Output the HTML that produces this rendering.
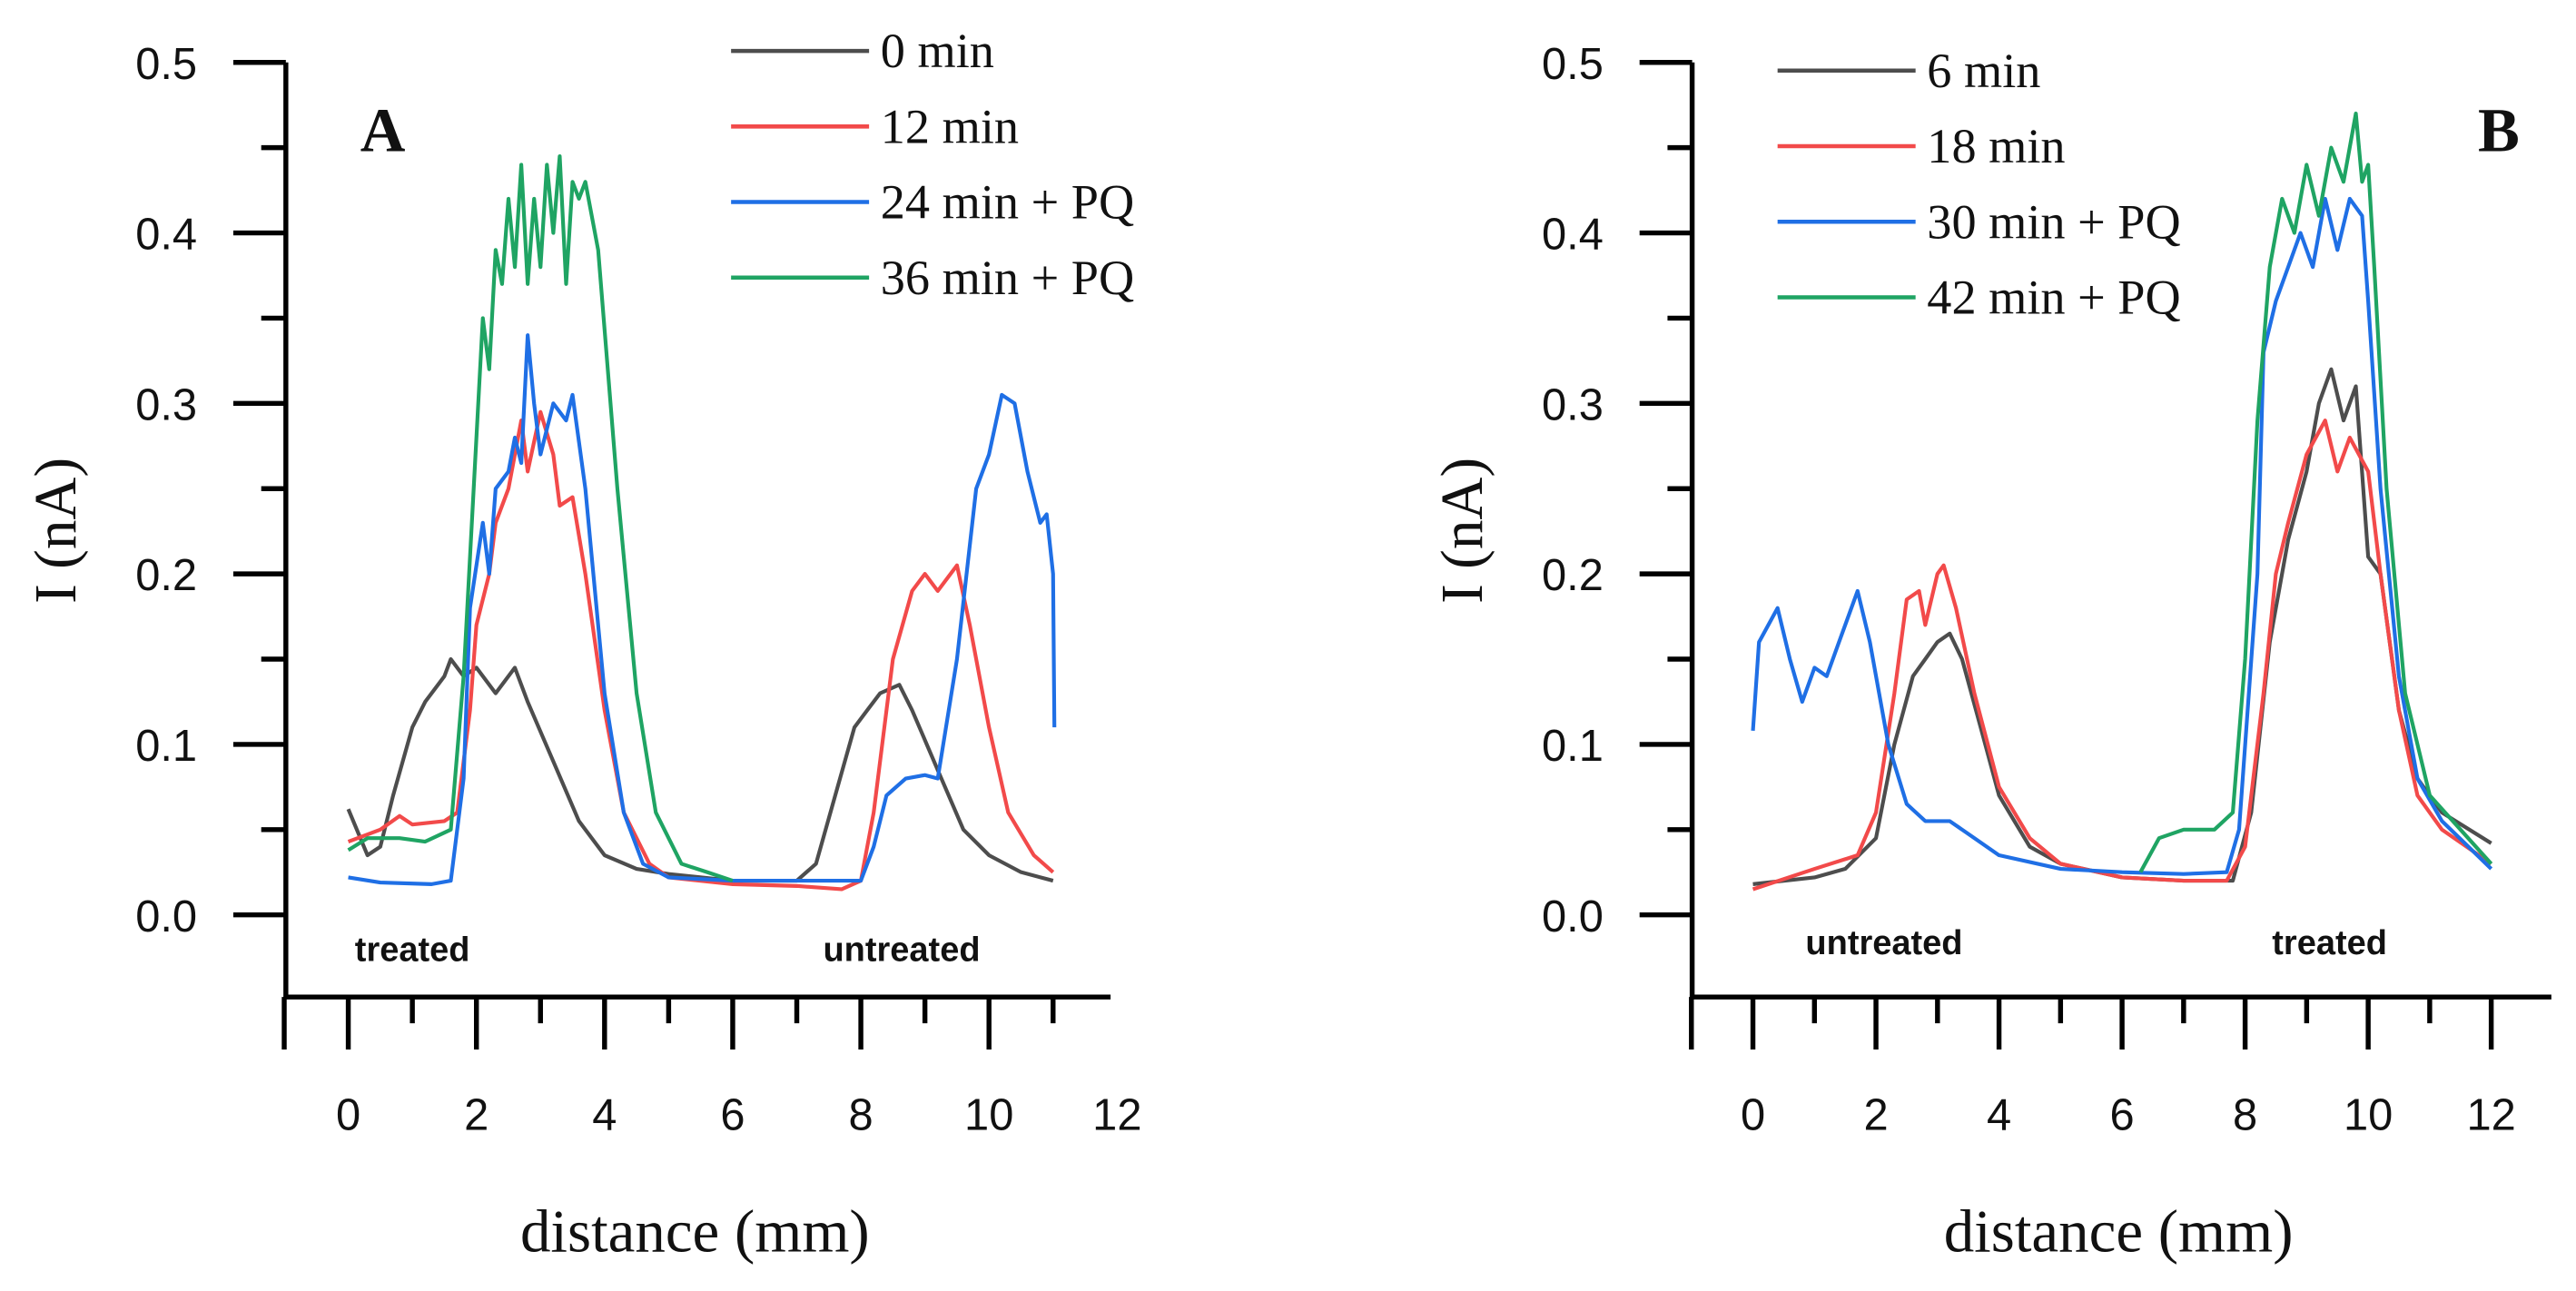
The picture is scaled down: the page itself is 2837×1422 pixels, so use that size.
<!DOCTYPE html>
<html><head><meta charset="utf-8"><style>
html,body{margin:0;padding:0;background:#fff;}
svg{display:block;}
.tk{font-family:"Liberation Sans",sans-serif;font-size:27px;fill:#111;}
.ser{font-family:"Liberation Serif",serif;fill:#111;}
.lbl{font-family:"Liberation Sans",sans-serif;font-size:21px;font-weight:bold;fill:#111;}
</style></head><body>
<svg id="chart" width="2837" height="1422" viewBox="0 0 1568 786" preserveAspectRatio="none" xmlns="http://www.w3.org/2000/svg">
<g id="pa"></g>
<g id="pb"></g>
</svg>
<script>
const yTicks=[0.0,0.1,0.2,0.3,0.4,0.5];
const xTicks=[0,2,4,6,8,10,12];
const legendA=["0 min","12 min","24 min + PQ","36 min + PQ"];
const legendB=["6 min","18 min","30 min + PQ","42 min + PQ"];
const colors=["#4d4d4d","#f24a4a","#1f6fe5","#1fa463"];
const a0x=[0,0.3,0.5,0.7,1,1.2,1.5,1.6,1.8,2,2.3,2.6,2.8,3.2,3.6,4,4.5,5,6,7,7.3,7.6,7.9,8.1,8.3,8.6,8.8,9.2,9.6,10,10.5,11];
const a0y=[0.062,0.035,0.04,0.07,0.11,0.125,0.14,0.15,0.14,0.145,0.13,0.145,0.125,0.09,0.055,0.035,0.027,0.024,0.02,0.02,0.03,0.07,0.11,0.12,0.13,0.135,0.12,0.085,0.05,0.035,0.025,0.02];
const a1x=[0,0.5,0.8,1,1.5,1.7,1.9,2.0,2.2,2.3,2.5,2.7,2.8,3.0,3.2,3.3,3.5,3.7,4,4.3,4.7,5,6,7,7.7,8,8.2,8.5,8.8,9,9.2,9.5,9.7,10,10.3,10.7,11];
const a1y=[0.043,0.05,0.058,0.053,0.055,0.06,0.12,0.17,0.2,0.23,0.25,0.29,0.26,0.295,0.27,0.24,0.245,0.2,0.12,0.06,0.03,0.022,0.018,0.017,0.015,0.02,0.06,0.15,0.19,0.2,0.19,0.205,0.17,0.11,0.06,0.035,0.025];
const a2x=[0,0.5,1.3,1.6,1.8,1.9,2.1,2.2,2.3,2.5,2.6,2.7,2.8,2.9,3.0,3.2,3.4,3.5,3.7,4.0,4.3,4.6,5,6,7,8,8.2,8.4,8.7,9.0,9.2,9.5,9.8,10,10.2,10.4,10.6,10.8,10.9,11,11.02];
const a2y=[0.022,0.019,0.018,0.02,0.08,0.18,0.23,0.2,0.25,0.26,0.28,0.265,0.34,0.3,0.27,0.3,0.29,0.305,0.25,0.13,0.06,0.03,0.022,0.02,0.02,0.02,0.04,0.07,0.08,0.082,0.08,0.15,0.25,0.27,0.305,0.3,0.26,0.23,0.235,0.2,0.11];
const a3x=[0,0.3,0.8,1.2,1.6,1.8,2.0,2.1,2.2,2.3,2.4,2.5,2.6,2.7,2.8,2.9,3.0,3.1,3.2,3.3,3.4,3.5,3.6,3.7,3.9,4.2,4.5,4.8,5.2,5.6,6];
const a3y=[0.038,0.045,0.045,0.043,0.05,0.14,0.28,0.35,0.32,0.39,0.37,0.42,0.38,0.44,0.37,0.42,0.38,0.44,0.40,0.445,0.37,0.43,0.42,0.43,0.39,0.25,0.13,0.06,0.03,0.025,0.02];
const b0x=[0,1,1.5,2,2.3,2.6,2.8,3.0,3.2,3.4,3.7,4,4.5,5,6,7,7.8,8.1,8.4,8.7,9,9.2,9.4,9.6,9.8,10,10.2,10.5,10.8,11.2,12];
const b0y=[0.018,0.022,0.027,0.045,0.1,0.14,0.15,0.16,0.165,0.15,0.11,0.07,0.04,0.03,0.022,0.02,0.02,0.06,0.16,0.22,0.26,0.3,0.32,0.29,0.31,0.21,0.2,0.12,0.08,0.06,0.042];
const b1x=[0,1,1.7,2.0,2.3,2.5,2.7,2.8,3.0,3.1,3.3,3.6,4,4.5,5,6,7,7.7,8.0,8.3,8.5,8.7,9.0,9.3,9.5,9.7,10,10.2,10.5,10.8,11.2,12];
const b1y=[0.015,0.027,0.035,0.06,0.13,0.185,0.19,0.17,0.2,0.205,0.18,0.13,0.075,0.045,0.03,0.022,0.02,0.02,0.04,0.13,0.2,0.23,0.27,0.29,0.26,0.28,0.26,0.2,0.12,0.07,0.05,0.03];
const b2x=[0,0.1,0.4,0.6,0.8,1.0,1.2,1.4,1.7,1.9,2.2,2.5,2.8,3.2,3.6,4,5,6,7,7.7,7.9,8.2,8.3,8.5,8.7,8.9,9.1,9.3,9.5,9.7,9.9,10.0,10.2,10.5,10.8,11.2,12];
const b2y=[0.108,0.16,0.18,0.15,0.125,0.145,0.14,0.16,0.19,0.16,0.1,0.065,0.055,0.055,0.045,0.035,0.027,0.025,0.024,0.025,0.05,0.2,0.33,0.36,0.38,0.4,0.38,0.42,0.39,0.42,0.41,0.36,0.25,0.14,0.08,0.055,0.027];
const b3x=[6.3,6.6,7,7.5,7.8,8.0,8.2,8.4,8.6,8.8,9.0,9.2,9.4,9.6,9.8,9.9,10.0,10.1,10.3,10.6,11,11.5,12];
const b3y=[0.025,0.045,0.05,0.05,0.06,0.15,0.29,0.38,0.42,0.40,0.44,0.41,0.45,0.43,0.47,0.43,0.44,0.38,0.25,0.13,0.07,0.05,0.03];

const NS="http://www.w3.org/2000/svg";
function mk(p,t,at){const e=document.createElementNS(NS,t);for(const k in at)e.setAttribute(k,at[k]);p.appendChild(e);return e;}

function panel(g,ax,x0px,pxPerMm,axRight,series,legend,legX,legY0,letter,letX,lbls){
  const Y=v=>557-v*1038;
  const X=v=>x0px+v*pxPerMm;
  const axes=mk(g,'path',{d:`M${ax},${38} V607 H${axRight}`,fill:'none',stroke:'#000','stroke-width':3});
  
  
  for(let i=0;i<=10;i++){
    const v=i*0.05;const py=Y(v);const major=i%2===0;
    mk(g,'line',{x1:ax-(major?32:15),x2:ax,y1:py,y2:py,stroke:'#000','stroke-width':3});
  }
  yTicks.forEach(v=>{
    const t=mk(g,'text',{x:ax-54,y:Y(v)+10,'text-anchor':'end',class:'tk'});
    t.textContent=v.toFixed(1);
    
    
  });
  for(let m=-1;m<=12;m++){
    const px=X(m);if(px>axRight+2)continue;const major=(m%2===0)||m===-1;
    mk(g,'line',{x1:px,x2:px,y1:607,y2:607+(major?32:16),stroke:'#000','stroke-width':3});
  }
  xTicks.forEach(v=>{
    const t=mk(g,'text',{x:X(v),y:688,'text-anchor':'middle',class:'tk'});
    t.textContent=String(v);
    
    
  });
  const yt=mk(g,'text',{x:0,y:0,'text-anchor':'middle',class:'ser','font-size':36,transform:`translate(${ax-128},323) rotate(-90)`});
  yt.textContent='I (nA)';
  
  
  const xt=mk(g,'text',{x:(ax+axRight)/2-2,y:762,'text-anchor':'middle',class:'ser','font-size':37});
  xt.textContent='distance (mm)';
  
  
  const lt=mk(g,'text',{x:letX,y:92,'text-anchor':'middle',class:'ser','font-size':38,'font-weight':'bold'});
  lt.textContent=letter;
  
  
  series.forEach((s,i)=>{
    const d=s[0].map((x,j)=>(j?'L':'M')+X(x).toFixed(1)+','+Y(s[1][j]).toFixed(1)).join(' ');
    const p=mk(g,'path',{d,fill:'none',stroke:colors[i],'stroke-width':2.3,'stroke-linejoin':'round'});
    
    
    const ly=legY0+i*46;
    const ll=mk(g,'line',{x1:legX,x2:legX+84,y1:ly,y2:ly,stroke:colors[i],'stroke-width':2.5});
    
    
    const tx=mk(g,'text',{x:legX+91,y:ly+10,class:'ser','font-size':30});
    tx.textContent=legend[i];
    
    
  });
  lbls.forEach(l=>{
    const t=mk(g,'text',{x:l[1],y:l[2],class:'lbl'});
    t.textContent=l[0];
    
    
  });
}
panel(document.getElementById('pa'),174,212,39,676,[[a0x,a0y],[a1x,a1y],[a2x,a2y],[a3x,a3y]],legendA,445,31,'A',233,[['treated',216,585],['untreated',501,585]]);
panel(document.getElementById('pb'),1030,1067,37.45,1553,[[b0x,b0y],[b1x,b1y],[b2x,b2y],[b3x,b3y]],legendB,1082,43,'B',1521,[['untreated',1099,581],['treated',1383,581]]);
</script>
</body></html>
